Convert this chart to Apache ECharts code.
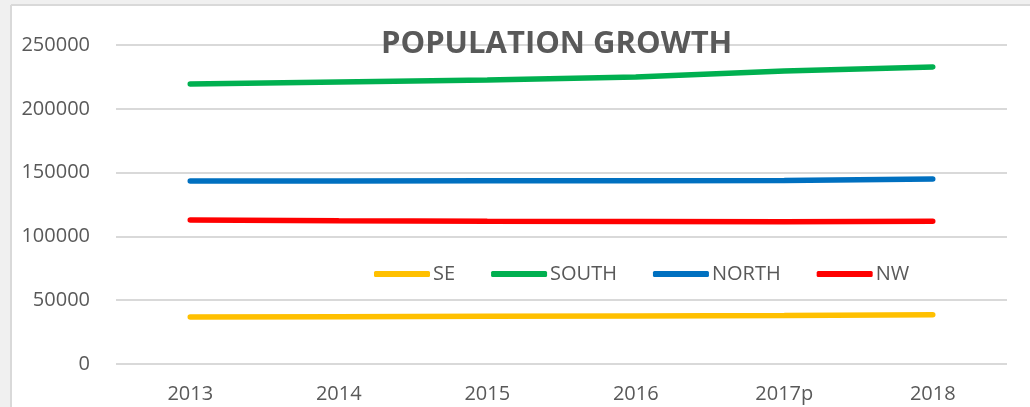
<!DOCTYPE html>
<html>
<head>
<meta charset="utf-8">
<script src="https://cdn.jsdelivr.net/npm/echarts@6/dist/echarts.min.js"></script>
<style>
  html, body { margin: 0; padding: 0; background: #fff; }
  #chart { width: 1030px; height: 407px; }
</style>
</head>
<body>
<div id="chart"></div>
<script>
// years on the x axis
var years = ['2013', '2014', '2015', '2016', '2017p', '2018'];
// population per region
var se    = [36900, 37100, 37400, 37700, 38000, 38500];
var south = [219400, 221000, 222600, 224900, 229600, 232800];
var north = [143400, 143500, 143600, 143700, 143900, 145000];
var nw    = [112800, 112300, 111900, 111700, 111400, 111900];

var textColor = '#595959';

var chart = echarts.init(document.getElementById('chart'));

function line(name, data, color) {
    return {
        name: name,
        type: 'line',
        data: data,
        symbol: 'none',
        lineStyle: { color: color, width: 5.5, cap: 'round' },
        itemStyle: { color: color }
    };
}

chart.setOption({
    animation: false,
    backgroundColor: '#fff',
    title: {
        text: 'POPULATION GROWTH',
        left: 376,
        top: 24,
        textStyle: {
            fontFamily: 'Open Sans',
            fontSize: 31,
            fontWeight: 'bold',
            color: textColor
        }
    },
    legend: {
        left: 369,
        top: 259,
        icon: 'roundRect',
        itemWidth: 56,
        itemHeight: 6,
        itemGap: 36,
        textStyle: { fontFamily: 'Open Sans', fontSize: 20, color: textColor, padding: [0, 0, 0, -2] },
        data: ['SE', 'SOUTH', 'NORTH', 'NW']
    },
    grid: { left: 116, right: 23, top: 45, bottom: 43 },
    xAxis: {
        type: 'category',
        data: years,
        boundaryGap: true,
        axisLine: { show: false },
        axisTick: { show: false },
        axisLabel: { fontFamily: 'Open Sans', fontSize: 20, color: textColor, margin: 20 }
    },
    yAxis: {
        type: 'value',
        min: 0,
        max: 250000,
        interval: 50000,
        axisLine: { show: false },
        axisTick: { show: false },
        axisLabel: {
            fontFamily: 'Open Sans', fontSize: 20, color: textColor, margin: 26,
            formatter: function (v) { return String(v); }
        },
        splitLine: { lineStyle: { color: '#d9d9d9', width: 2 } }
    },
    graphic: [
        { type: 'rect', shape: { x: 0, y: 0, width: 1030, height: 5 }, style: { fill: '#f0f0f0' }, z: 100 },
        { type: 'rect', shape: { x: 0, y: 0, width: 11, height: 407 }, style: { fill: '#f0f0f0' }, z: 100 },
        { type: 'line', shape: { x1: 11, y1: 5, x2: 1030, y2: 5 }, style: { stroke: '#d9d9d9', lineWidth: 2 }, z: 100 },
        { type: 'line', shape: { x1: 11, y1: 5, x2: 11, y2: 407 }, style: { stroke: '#d9d9d9', lineWidth: 2 }, z: 100 }
    ],
    series: [
        line('SE', se, '#FFC000'),
        line('SOUTH', south, '#00B050'),
        line('NORTH', north, '#0070C0'),
        line('NW', nw, '#FF0000')
    ]
});
</script>
</body>
</html>
